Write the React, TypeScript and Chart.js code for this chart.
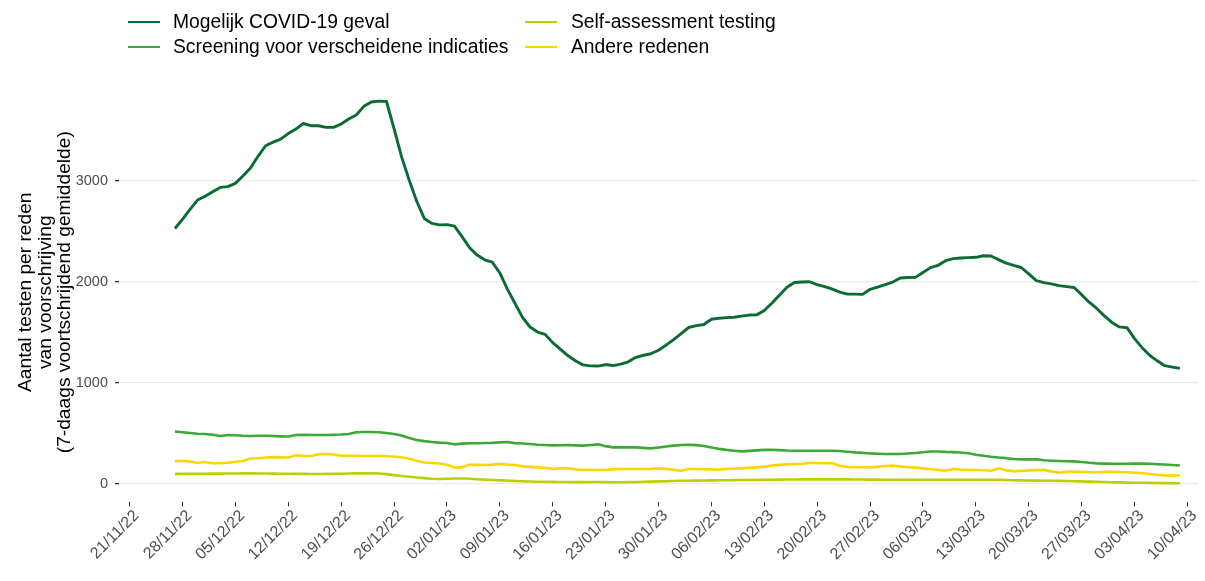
import React, { useEffect, useRef } from "react";
import { Chart, registerables } from "chart.js";
Chart.register(...registerables);

// x positions are day offsets from 21/11/22; data starts on 27/11/22 (offset 6)
const FIRST_DAY = 6;
const tickLabels = ["21/11/22","28/11/22","05/12/22","12/12/22","19/12/22","26/12/22","02/01/23","09/01/23","16/01/23","23/01/23","30/01/23","06/02/23","13/02/23","20/02/23","27/02/23","06/03/23","13/03/23","20/03/23","27/03/23","03/04/23","10/04/23"];
const yTicks = [0, 1000, 2000, 3000];

const seriesNames = ["Mogelijk COVID-19 geval", "Screening voor verscheidene indicaties", "Self-assessment testing", "Andere redenen"];
const seriesColors = ["#0a6b33", "#3aa936", "#bccf00", "#fdd600"];

const mogelijk = [
  2530,2620,2720,2812,2850,2895,2937,2945,2977,3050,
  3130,3245,3350,3385,3416,3470,3515,3570,3548,3548,
  3532,3532,3565,3615,3655,3740,3783,3792,3788,3520,
  3240,3010,2800,2630,2581,2566,2568,2554,2450,2340,
  2267,2220,2198,2090,1930,1790,1650,1555,1505,1482,
  1400,1335,1272,1221,1180,1170,1168,1183,1172,1188,
  1210,1255,1275,1290,1325,1375,1430,1490,1550,1568,
  1580,1632,1642,1648,1652,1662,1673,1675,1718,1790,
  1870,1948,1995,2000,2003,1975,1955,1930,1900,1880,
  1880,1878,1928,1950,1975,2000,2040,2045,2046,2095,
  2143,2166,2212,2232,2238,2242,2245,2260,2258,2222,
  2188,2165,2144,2080,2015,1995,1982,1965,1955,1946,
  1875,1800,1739,1665,1600,1556,1548,1440,1350,1275,
  1220,1172,1158,1145
];

const screening = [
  520,512,505,498,495,488,475,485,483,478,
  475,478,478,475,472,470,485,487,486,486,
  486,488,490,495,512,515,515,512,505,495,
  480,455,436,425,416,410,406,393,400,403,
  404,406,408,412,416,405,402,397,389,386,
  383,384,386,383,380,386,393,375,363,363,
  363,363,358,353,362,372,380,386,389,385,
  376,362,348,338,330,323,328,333,338,340,
  336,332,330,330,330,330,330,329,327,320,
  313,308,303,300,298,297,298,302,307,315,
  322,322,318,316,312,304,290,280,270,262,
  256,248,244,244,245,235,231,228,226,224,
  218,210,204,202,200,200,201,202,203,200,
  196,193,188,184
];

const selfAssessment = [
  100,101,101,102,102,103,103,104,104,105,
  105,104,104,103,102,101,100,100,99,99,
  100,101,102,104,105,105,105,104,98,88,
  80,72,64,58,52,50,52,54,55,52,
  48,44,40,37,34,30,27,25,23,22,
  21,20,20,19,19,20,20,19,18,18,
  19,20,22,24,26,28,30,32,33,34,
  35,36,37,38,39,40,40,41,42,43,
  44,45,45,46,46,46,46,46,46,46,
  45,45,44,44,43,43,43,43,43,43,
  43,43,43,43,43,43,43,43,43,42,
  40,38,36,35,34,33,32,31,30,28,
  26,24,22,20,18,16,14,13,12,11,
  10,9,8,8
];

const andere = [
  225,230,222,210,218,205,205,210,220,228,
  252,255,262,266,264,263,285,280,278,295,
  296,292,280,280,280,278,278,280,275,272,
  265,250,230,213,208,203,190,165,165,192,
  190,188,192,198,192,188,175,170,165,160,
  150,155,157,145,139,140,139,140,145,148,
  149,148,148,150,155,150,140,132,149,148,
  147,145,140,150,152,156,160,165,172,182,
  190,195,198,200,208,208,206,205,180,170,
  167,166,165,170,178,182,175,166,162,155,
  147,140,132,149,143,140,139,136,132,155,
  135,128,130,135,138,140,125,112,120,123,
  120,117,117,120,122,119,117,112,108,100,
  92,84,86,87
];

const yTitle = ["Aantal testen per reden", "van voorschrijving", "(7-daags voortschrijdend gemiddelde)"];

const FONT = "'Liberation Sans', Arial, Helvetica, sans-serif";

function toPoints(values: number[]) {
  return values.map((v, i) => ({ x: FIRST_DAY + i, y: v }));
}

export default function App() {
  const canvasRef = useRef<HTMLCanvasElement | null>(null);

  useEffect(() => {
    const canvas = canvasRef.current;
    if (!canvas) return;
    const allSeries = [mogelijk, screening, selfAssessment, andere];
    const order = [3, 2, 1, 0];
    const chart = new Chart(canvas, {
      type: "line",
      data: {
        datasets: order.map((k) => ({
          label: seriesNames[k],
          data: toPoints(allSeries[k]),
          borderColor: seriesColors[k],
          backgroundColor: seriesColors[k],
          borderWidth: k === 0 ? 2.9 : 2.6,
          pointRadius: 0,
          tension: 0,
          borderJoinStyle: "round" as const,
          borderCapStyle: "butt" as const,
        })),
      },
      options: {
        animation: false,
        responsive: false,
        maintainAspectRatio: false,
        layout: { padding: { top: 82, right: 7, bottom: 0, left: 0 } },
        plugins: { legend: { display: false }, tooltip: { enabled: false } },
        scales: {
          x: {
            type: "linear",
            min: -1.4,
            max: 141.4,
            border: { display: false },
            grid: {
              drawOnChartArea: false,
              drawTicks: true,
              tickLength: 4,
              tickColor: "#333333",
              lineWidth: 1,
            },
            ticks: {
              autoSkip: false,
              maxRotation: 45,
              minRotation: 45,
              padding: 0,
              labelOffset: 7,
              color: "#4d4d4d",
              font: { family: FONT, size: 16 },
              callback: (value: any) => {
                const idx = Math.round(Number(value) / 7);
                return tickLabels[idx] ?? "";
              },
            },
            afterBuildTicks: (scale: any) => {
              scale.ticks = tickLabels.map((_, i) => ({ value: i * 7 }));
            },
            afterFit: (scale: any) => {
              scale.height = 78.6;
            },
          },
          y: {
            type: "linear",
            min: -182,
            max: 3981,
            border: { display: false },
            grid: {
              color: "#ebebeb",
              lineWidth: 1.3,
              drawTicks: true,
              tickLength: 4,
              tickColor: "#333333",
            },
            ticks: {
              padding: 7,
              color: "#4d4d4d",
              font: { family: FONT, size: 14.5 },
              callback: (value: any) => String(value),
            },
            afterBuildTicks: (scale: any) => {
              scale.ticks = yTicks.map((v) => ({ value: v }));
            },
            afterFit: (scale: any) => {
              scale.width = 119;
            },
            title: {
              display: true,
              text: yTitle,
              color: "#000000",
              font: { family: FONT, size: 19.2, lineHeight: 19.5 / 19.2 },
              padding: { top: 16, bottom: 0 },
            },
          },
        },
      },
    });
    return () => chart.destroy();
  }, []);

  const legend = [
    { k: 0, left: 128, top: 22 },
    { k: 1, left: 128, top: 47 },
    { k: 2, left: 525, top: 22 },
    { k: 3, left: 525, top: 47 },
  ];

  return (
    <div style={{ position: "fixed", left: 0, top: 0, width: 1205, height: 581, background: "#ffffff", overflow: "hidden" }}>
      <canvas ref={canvasRef} width={1205} height={581} style={{ position: "absolute", left: 0, top: 0, width: 1205, height: 581 }} />
      {legend.map(({ k, left, top }) => (
        <div key={k} style={{ position: "absolute", left, top: top - 12, height: 24, display: "flex", alignItems: "center", fontFamily: FONT, fontSize: 19.3, color: "#000", whiteSpace: "nowrap" }}>
          <span style={{ display: "inline-block", width: 32, height: 2, background: seriesColors[k], marginRight: k >= 2 ? 14 : 13 }} />
          <span>{seriesNames[k]}</span>
        </div>
      ))}
    </div>
  );
}
